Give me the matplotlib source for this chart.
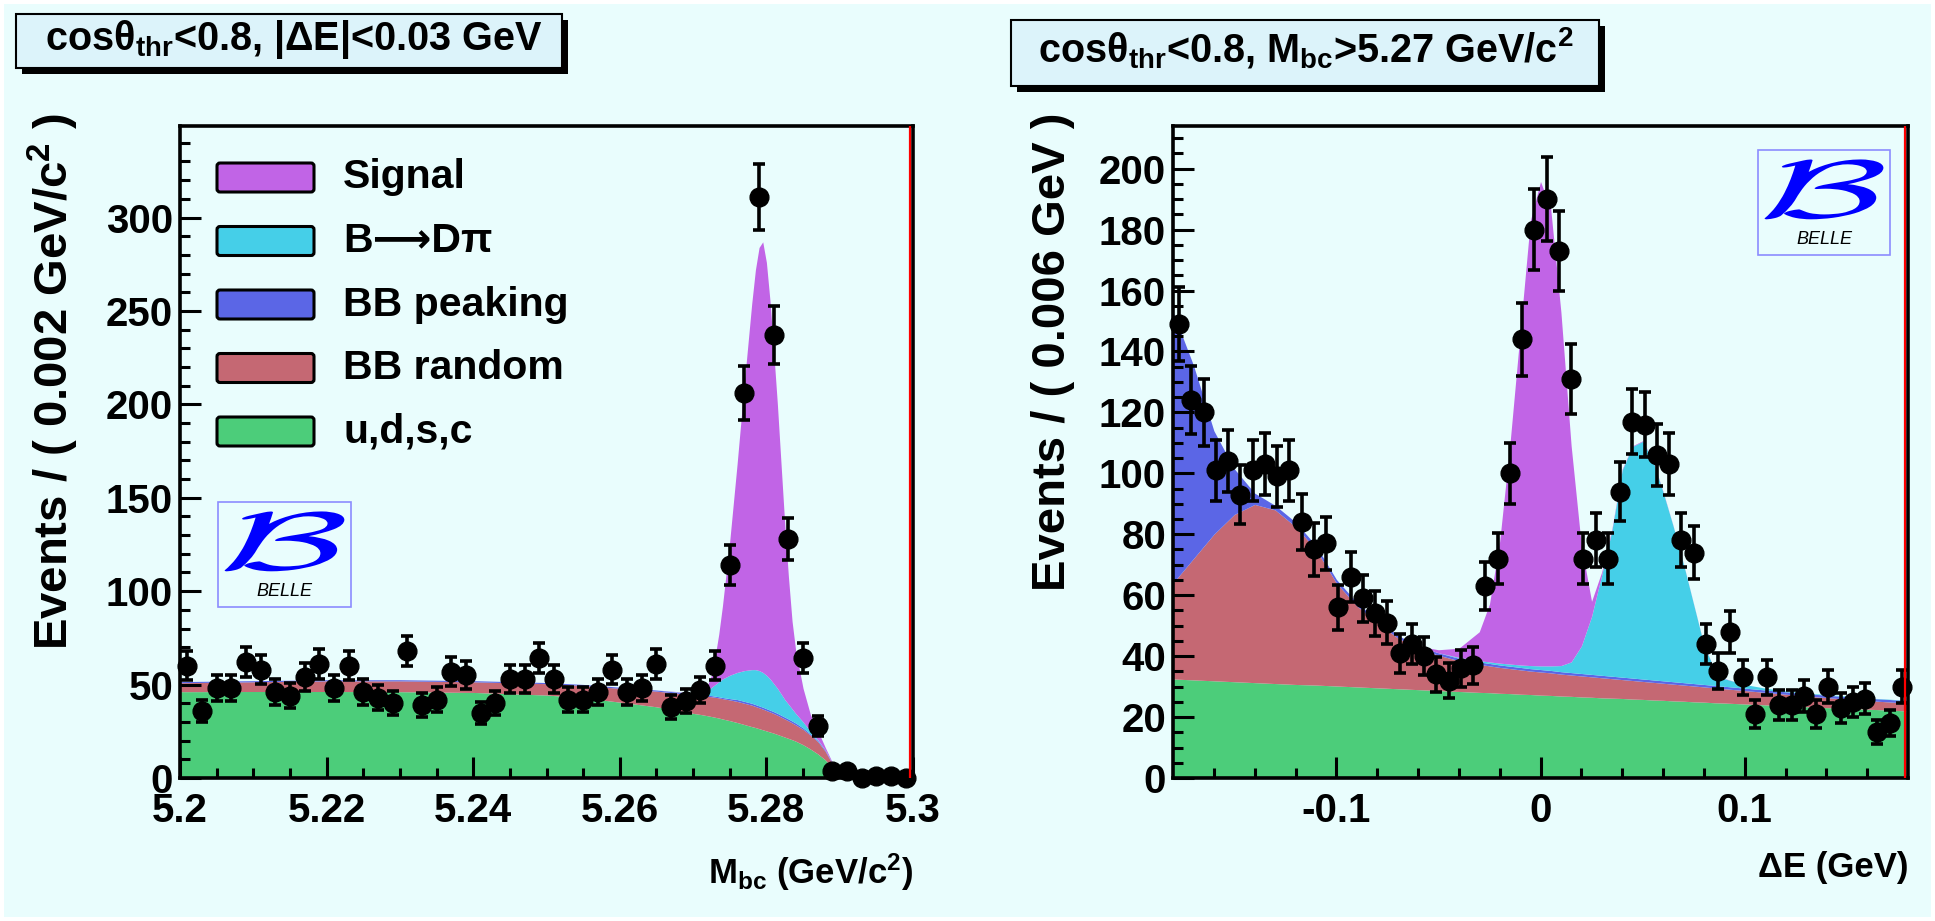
import numpy as np
import matplotlib
matplotlib.use("Agg")
import matplotlib.pyplot as plt
from matplotlib.patches import Rectangle, FancyBboxPatch, PathPatch
from matplotlib.lines import Line2D
from matplotlib.textpath import TextPath
from matplotlib.font_manager import FontProperties
from matplotlib.transforms import Affine2D

# ---------------- data: M_bc projection (0.002 GeV/c^2 bins) ----------------
mbc_range = (5.2, 5.3)
mbc_counts = [60, 36, 48, 48, 62, 58, 46, 44, 54, 61, 48, 60, 46, 43, 40, 68, 39, 42, 57, 55,
              35, 40, 53, 53, 64, 53, 42, 42, 46, 58, 46, 48, 61, 38, 41, 47, 60, 114, 206, 311,
              237, 128, 64, 28, 4, 4, 0, 1, 1, 0]
# fit components
mbc_grid = [5.200, 5.210, 5.220, 5.230, 5.240, 5.250, 5.255, 5.260, 5.265, 5.270,
            5.271, 5.272, 5.2725, 5.273, 5.2735, 5.274, 5.275, 5.276, 5.277, 5.278,
            5.2785, 5.279, 5.2795, 5.280, 5.2805, 5.281, 5.2815, 5.282, 5.2825, 5.283,
            5.2835, 5.284, 5.285, 5.286, 5.287, 5.288, 5.289, 5.2897, 5.300]
mbc_udsc = [46.2, 46.3, 46.3, 46.2, 45.8, 44.4, 43.0, 40.6, 38.1, 34.6,
            34.0, 33.3, 32.9, 32.5, 32.1, 31.6, 30.7, 29.7, 28.6, 27.5,
            27.0, 26.4, 25.8, 25.2, 24.6, 24.0, 23.3, 22.6, 21.9, 21.2,
            20.5, 19.7, 17.8, 15.5, 12.9, 9.8, 5.5, 0.0, 0.0]
mbc_bb_random = [4.8, 5.2, 5.7, 5.8, 5.7, 6.1, 6.5, 7.4, 8.4, 9.9,
                 10.1, 10.4, 10.6, 10.7, 10.8, 10.9, 11.1, 11.3, 11.4, 11.5,
                 11.3, 11.2, 11.1, 10.9, 10.7, 10.5, 10.3, 10.0, 9.7, 9.4,
                 9.0, 8.7, 8.2, 7.5, 6.6, 4.7, 2.0, 0.0, 0.0]
mbc_bb_peaking = [0.6, 0.6, 0.6, 0.6, 0.6, 0.6, 0.6, 0.6, 0.6, 0.6,
                  0.6, 0.6, 0.6, 0.6, 0.6, 0.6, 0.7, 1.0, 1.0, 1.0,
                  1.0, 1.0, 1.0, 1.0, 1.0, 1.0, 1.0, 1.0, 1.0, 1.0,
                  1.0, 1.0, 0.8, 0.6, 0.6, 0.5, 0.3, 0.0, 0.0]
mbc_bdpi = [0, 0, 0, 0, 0, 0, 0, 0, 0, 0.2,
            0.8, 2.7, 4.4, 6.2, 8.0, 9.9, 12.5, 14.5, 16.5, 18.0,
            18.7, 18.9, 18.6, 17.9, 16.7, 15.0, 13.4, 11.4, 9.4, 7.9,
            6.5, 5.1, 3.2, 1.4, 0.4, 0.1, 0, 0, 0]
mbc_signal = [0, 0, 0, 0, 0, 0, 0, 0, 0, 0.3,
              1.0, 3.0, 6.5, 15, 25.5, 39, 72, 111.5, 154.5, 196,
              214, 226.5, 230.5, 221, 202, 177.5, 152, 123, 94, 68.5,
              47, 33.5, 18, 9, 5, 1.5, 0.5, 0, 0]
mbc_ticks = [5.2, 5.22, 5.24, 5.26, 5.28, 5.3]
mbc_ticklabels = ["5.2", "5.22", "5.24", "5.26", "5.28", "5.3"]

# ---------------- data: Delta E projection (0.006 GeV bins) ----------------
de_range = (-0.18, 0.18)
de_counts = [149, 124, 120, 101, 104, 93, 101, 103, 99, 101, 84, 75, 77, 56, 66, 59, 54, 51, 41, 44,
             40, 34, 32, 36, 37, 63, 72, 100, 144, 180, 190, 173, 131, 72, 78, 72, 94, 117, 116, 106,
             103, 78, 74, 44, 35, 48, 33, 21, 33, 24, 24, 27, 21, 30, 23, 25, 26, 15, 18, 30]
de_grid = [-0.18, -0.17, -0.16, -0.15, -0.14, -0.13, -0.12, -0.11, -0.10, -0.09, -0.08, -0.07,
           -0.06, -0.05, -0.04, -0.03, -0.025, -0.02, -0.015, -0.01, -0.005, 0.0, 0.005, 0.01,
           0.015, 0.02, 0.025, 0.03, 0.035, 0.04, 0.045, 0.05, 0.055, 0.06, 0.065, 0.07, 0.075,
           0.08, 0.085, 0.09, 0.10, 0.11, 0.12, 0.13, 0.14, 0.15, 0.16, 0.17, 0.18]
de_udsc = [32.5, 32.2, 31.9, 31.6, 31.3, 31.0, 30.7, 30.5, 30.2, 29.9, 29.6, 29.3,
           29.0, 28.7, 28.4, 28.1, 28.0, 27.8, 27.7, 27.5, 27.4, 27.2, 27.1, 26.9,
           26.8, 26.6, 26.5, 26.3, 26.2, 26.1, 25.9, 25.8, 25.6, 25.5, 25.3, 25.2, 25.0,
           24.9, 24.7, 24.6, 24.3, 24.0, 23.7, 23.4, 23.1, 22.9, 22.6, 22.3, 22.0]
de_bb_random = [31.5, 39.8, 48.1, 54.9, 58.5, 57.0, 51.8, 44.5, 33.8, 26.6, 21.4, 16.7,
                13.5, 11.6, 10.1, 9.2, 8.8, 8.5, 8.2, 8.0, 7.7, 7.6, 7.4, 7.2,
                7.0, 6.9, 6.7, 6.6, 6.4, 6.2, 6.1, 5.9, 5.8, 5.6, 5.5, 5.3, 5.2,
                5.0, 4.9, 4.7, 4.4, 4.1, 3.8, 3.5, 3.3, 3.0, 2.8, 2.7, 2.6]
de_bb_peaking = [89, 63.5, 34, 15, 3.7, 1.5, 1.5, 1.3, 1.2, 1.1, 1.0, 0.9,
                 0.8, 0.8, 0.8, 0.8, 0.8, 0.8, 0.8, 0.8, 0.8, 0.8, 0.8, 0.8,
                 0.8, 0.8, 0.8, 0.8, 0.8, 0.8, 0.8, 0.8, 0.8, 0.8, 0.8, 0.8, 0.8,
                 0.8, 0.8, 0.8, 0.8, 0.8, 0.8, 0.8, 0.8, 0.8, 0.8, 0.8, 0.8]
de_bdpi = [0, 0, 0, 0, 0, 0, 0, 0, 0, 0, 0, 0,
           0, 0, 0.3, 0.4, 0.5, 0.6, 0.7, 0.8, 1.0, 1.2, 1.5, 2.0,
           3.5, 9, 19, 33, 48, 68, 76, 78, 72, 62, 51, 39, 26,
           13, 5.5, 2.5, 1.2, 0.6, 0.3, 0.2, 0.2, 0.2, 0.1, 0.1, 0.1]
de_signal = [0, 0, 0, 0, 0, 0, 0, 0, 0, 0, 0, 0,
             0, 1.0, 3.0, 9.5, 19, 40, 72, 109, 146, 159, 150, 116,
             71, 33, 5, 1.0, 0.5, 0.3, 0.2, 0.2, 0.2, 0.2, 0.1, 0.1, 0.1,
             0.1, 0.1, 0.1, 0, 0, 0, 0, 0, 0, 0, 0, 0]
de_ticks = [-0.1, 0.0, 0.1]
de_ticklabels = ["-0.1", "0", "0.1"]

legend_labels = ["Signal", "B⟶Dπ", "BB peaking", "BB random", "u,d,s,c"]

# ---------------- style ----------------
W, H = 1935, 921
BG = "#e9fdfd"
C_SIG = "#c164e6"
C_BDPI = "#45cfe8"
C_PEAK = "#5b66e6"
C_RAND = "#c56873"
C_UDSC = "#4ccd7a"

plt.rcParams["font.family"] = ["Liberation Sans", "DejaVu Sans"]
plt.rcParams["font.weight"] = "bold"
plt.rcParams["axes.labelweight"] = "bold"
plt.rcParams["mathtext.fontset"] = "custom"
plt.rcParams["mathtext.rm"] = "Liberation Sans:bold"
plt.rcParams["mathtext.it"] = "Liberation Sans:bold"
plt.rcParams["mathtext.bf"] = "Liberation Sans:bold"
plt.rcParams["axes.unicode_minus"] = False

fig = plt.figure(figsize=(W / 100, H / 100), dpi=100, facecolor="white")
fig.patches.append(Rectangle((4 / W, 4 / H), 1 - 8 / W, 1 - 8 / H, transform=fig.transFigure,
                             facecolor=BG, edgecolor="none", zorder=-10))


def px_axes(x0, y0, x1, y1):
    return fig.add_axes([x0 / W, 1 - y1 / H, (x1 - x0) / W, (y1 - y0) / H])


def draw_panel(ax, grid, comps, rng, counts, ylim):
    base = np.zeros(len(grid))
    for vals, col in comps:
        top = base + np.array(vals)
        ax.fill_between(grid, base, top, color=col, lw=0, zorder=1)
        base = top
    nb = len(counts)
    width = (rng[1] - rng[0]) / nb
    centers = rng[0] + width * (np.arange(nb) + 0.5)
    counts = np.array(counts, dtype=float)
    ax.errorbar(centers, counts, yerr=np.sqrt(counts), fmt="o", color="black", ms=13.5,
                elinewidth=2.6, capsize=4.5, capthick=2.6, zorder=5, clip_on=False)
    ax.set_xlim(*rng)
    ax.set_ylim(*ylim)
    ax.set_facecolor(BG)
    for s in ax.spines.values():
        s.set_linewidth(2.6)
    ax.tick_params(which="both", direction="in", top=False, right=False, width=2.2,
                   labelsize=29)
    ax.tick_params(which="major", length=15)
    ax.tick_params(which="minor", length=7.5)
    ax.tick_params(axis="x", pad=10)
    ax.tick_params(axis="y", pad=5)
    ax.add_line(Line2D([0.996, 0.996], [0, 1], transform=ax.transAxes, color="red", lw=1.6,
                       zorder=6))


# left panel
ax1 = px_axes(180, 126, 913, 778)
draw_panel(ax1, mbc_grid,
           [(mbc_udsc, C_UDSC), (mbc_bb_random, C_RAND), (mbc_bb_peaking, C_PEAK),
            (mbc_bdpi, C_BDPI), (mbc_signal, C_SIG)],
           mbc_range, mbc_counts, (0, 349))
ax1.set_xticks(mbc_ticks)
ax1.set_xticklabels(mbc_ticklabels)
ax1.set_xticks(np.arange(5.2, 5.3001, 0.005), minor=True)
ax1.set_yticks(np.arange(0, 301, 50))
ax1.set_yticks(np.arange(0, 341, 10), minor=True)
ax1.set_ylabel("Events / ( 0.002 GeV/c$^{2}$ )", fontsize=34, loc="top")
ax1.yaxis.set_label_coords(-0.135, 1.02)
ax1.set_xlabel("M$_{bc}$ (GeV/c$^{2}$)", fontsize=25, loc="right")
ax1.xaxis.set_label_coords(1.0, -0.112)

# right panel
ax2 = px_axes(1173, 126, 1908, 778)
draw_panel(ax2, de_grid,
           [(de_udsc, C_UDSC), (de_bb_random, C_RAND), (de_bb_peaking, C_PEAK),
            (de_bdpi, C_BDPI), (de_signal, C_SIG)],
           de_range, de_counts, (0, 214))
ax2.set_xticks(de_ticks)
ax2.set_xticklabels(de_ticklabels)
ax2.set_xticks(np.arange(-0.16, 0.161, 0.02), minor=True)
ax2.set_yticks(np.arange(0, 201, 20))
ax2.set_yticks(np.arange(0, 211, 5), minor=True)
ax2.set_ylabel("Events / ( 0.006 GeV )", fontsize=34, loc="top")
ax2.yaxis.set_label_coords(-0.133, 1.02)
ax2.set_xlabel("ΔE (GeV)", fontsize=25, loc="right")
ax2.xaxis.set_label_coords(1.0, -0.112)

# overlay in pixel coordinates for titles, legend and logos
ov = fig.add_axes([0, 0, 1, 1])
ov.set_xlim(0, W)
ov.set_ylim(H, 0)
ov.axis("off")
ov.set_zorder(10)


def title_box(x, y, w, h, tx, ty, s):
    ov.add_patch(Rectangle((x + 6, y + 6), w, h, facecolor="black", edgecolor="none"))
    ov.add_patch(Rectangle((x, y), w, h, facecolor="#dcf3fa", edgecolor="black", lw=1.5))
    ov.text(tx, ty, s, fontsize=28.5, ha="left", va="baseline")


title_box(16, 14, 546, 54, 45, 50, "cosθ$_{thr}$<0.8, |ΔE|<0.03 GeV")
title_box(1011, 20, 588, 66, 1038, 62, "cosθ$_{thr}$<0.8, M$_{bc}$>5.27 GeV/c$^{2}$")

# legend
leg_cols = [C_SIG, C_BDPI, C_PEAK, C_RAND, C_UDSC]
for i, (lab, col) in enumerate(zip(legend_labels, leg_cols)):
    yc = 177.5 + 63.5 * i
    ov.add_patch(FancyBboxPatch((217, yc - 14.5), 97, 29, boxstyle="round,pad=0,rounding_size=3",
                                facecolor=col, edgecolor="black", lw=2.2))
    ov.text(343, yc, lab, fontsize=29.5, ha="left", va="center")


def belle_logo(left, top, w, h):
    ov.add_patch(Rectangle((left, top), w, h, facecolor="none", edgecolor="#8c8cff", lw=1.2))
    tp = TextPath((0, 0), r"$\mathcal{B}$", size=50, prop=FontProperties(math_fontfamily="cm"))
    bb = tp.get_extents()
    bx0, by0 = left + 0.05 * w, top + 0.09 * h
    bx1, by1 = left + 0.95 * w, top + 0.66 * h
    tr = Affine2D().translate(-bb.x0, -bb.y1).scale((bx1 - bx0) / bb.width,
                                                    -(by1 - by0) / bb.height).translate(bx0, by0)
    ov.add_patch(PathPatch(tr.transform_path(tp), facecolor="#0000ff", edgecolor="none"))
    ov.text(left + 0.5 * w, top + 0.85 * h, "BELLE", fontsize=13, fontstyle="italic",
            fontweight="normal", ha="center", va="center", color="black")


belle_logo(218, 502, 133, 105)
belle_logo(1758, 150, 132, 105)

fig.savefig("out.png", dpi=100, facecolor=fig.get_facecolor())
